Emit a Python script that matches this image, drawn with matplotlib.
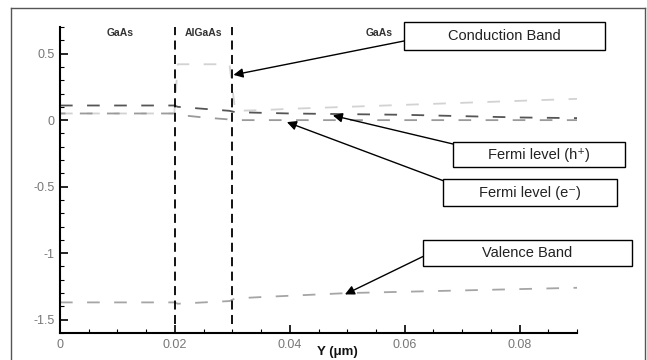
import numpy as np
import matplotlib
matplotlib.use("Agg")
import matplotlib.pyplot as plt
from matplotlib.ticker import MultipleLocator, FuncFormatter
from matplotlib.lines import Line2D
from matplotlib.patches import Rectangle

plt.rcParams['font.family'] = ['Liberation Sans', 'DejaVu Sans']
plt.rcParams['axes.unicode_minus'] = False

# band diagram values (eV vs Y in um)
x = [0, 0.005, 0.01, 0.015, 0.0199, 0.0205, 0.025, 0.0295, 0.0305, 0.035, 0.04, 0.05, 0.06, 0.07, 0.08, 0.09]
conduction = [0.05, 0.05, 0.05, 0.05, 0.05, 0.42, 0.42, 0.42, 0.07, 0.075, 0.085, 0.10, 0.115, 0.13, 0.145, 0.16]
fermi_h = [0.11, 0.11, 0.11, 0.11, 0.11, 0.10, 0.085, 0.07, 0.06, 0.055, 0.05, 0.045, 0.04, 0.03, 0.02, 0.015]
fermi_e = [0.05, 0.05, 0.05, 0.05, 0.05, 0.04, 0.02, 0.005, 0.0, 0.0, 0.0, 0.0, 0.0, 0.0, 0.0, 0.0]
valence = [-1.37, -1.37, -1.37, -1.37, -1.37, -1.38, -1.37, -1.36, -1.34, -1.33, -1.32, -1.30, -1.29, -1.28, -1.27, -1.26]

interfaces = [0.02, 0.03]
interface_y = [-1.53, 0.7]

regions = ["GaAs", "AlGaAs", "GaAs"]
region_x = [0.0105, 0.025, 0.0555]

labels = ["Conduction Band", "Fermi level (h⁺)", "Fermi level (e⁻)", "Valence Band"]
label_tip = [(0.0302, 0.34), (0.0475, 0.035), (0.0395, -0.015), (0.0496, -1.31)]
# boxes as (left, top, right, bottom) in pixels from top-left of the image
label_box = [(404, 22, 605, 50), (453, 142, 625, 167), (443, 179, 617, 206), (423, 240, 632, 266)]
label_anchor = [(404, 41), (453, 144), (444, 181), (424, 256)]

W, H = 647, 360
fig = plt.figure(figsize=(W / 100, H / 100), dpi=100)
ax = fig.add_axes([60 / W, 1 - 333 / H, (577 - 60) / W, (333 - 27) / H])

ax.plot(x, conduction, color='#d2d2d2', lw=1.3, linestyle=(0, (7, 8)))
ax.plot(x, fermi_h, color='#555555', lw=1.3, linestyle=(0, (7, 8)))
ax.plot(x, fermi_e, color='#9a9a9a', lw=1.3, linestyle=(4, (7, 8)))
ax.plot(x, valence, color='#a5a5a5', lw=1.3, linestyle=(0, (7, 8)))

for xi in interfaces:
    ax.plot([xi, xi], interface_y, color='black', lw=1.3, linestyle=(0, (5, 3)))

for name, xr in zip(regions, region_x):
    ax.text(xr, 0.655, name, ha='center', va='center', fontsize=7.5,
            fontweight='bold', color='#333333')

ax.set_xlim(0, 0.09)
ax.set_ylim(-1.6, 0.7)
for s in ['top', 'right']:
    ax.spines[s].set_visible(False)
for s in ['left', 'bottom']:
    ax.spines[s].set_linewidth(1.5)
ax.xaxis.set_major_locator(MultipleLocator(0.02))
ax.xaxis.set_minor_locator(MultipleLocator(0.005))
ax.yaxis.set_major_locator(MultipleLocator(0.5))
ax.yaxis.set_minor_locator(MultipleLocator(0.1))
fmt = FuncFormatter(lambda v, p: '%g' % round(v, 4))
ax.xaxis.set_major_formatter(fmt)
ax.yaxis.set_major_formatter(fmt)
ax.tick_params(which='major', direction='in', length=6, width=1.2, labelsize=9,
               labelcolor='#777777', pad=4)
ax.tick_params(which='minor', direction='in', length=3, width=0.8)

fig.text(337 / W, 1 - 352 / H, "Y (μm)", ha='center', va='center', fontsize=9.5,
         fontweight='bold', color='#111111')

for lab, tip, box, anc in zip(labels, label_tip, label_box, label_anchor):
    ax.annotate("", xy=tip, xycoords='data',
                xytext=(anc[0] / W, 1 - anc[1] / H), textcoords='figure fraction',
                arrowprops=dict(arrowstyle='-|>', color='black', lw=1.0,
                                mutation_scale=14, shrinkA=0, shrinkB=0))
    l, t, r, b = box
    fig.add_artist(Rectangle((l / W, 1 - b / H), (r - l) / W, (b - t) / H,
                             transform=fig.transFigure, fc='white', ec='black', lw=1.0))
    fig.text((l + r) / 2 / W, 1 - (t + b) / 2 / H, lab, ha='center', va='center',
             fontsize=10.5, color='#222222')

# outer frame
fig.add_artist(Line2D([11 / W, 645 / W], [1 - 8 / H, 1 - 8 / H], color='#555555', lw=1.0))
fig.add_artist(Line2D([11 / W, 11 / W], [0, 1 - 8 / H], color='#555555', lw=1.0))
fig.add_artist(Line2D([645 / W, 645 / W], [0, 1 - 8 / H], color='#555555', lw=1.0))

fig.savefig("out.png", dpi=100)
